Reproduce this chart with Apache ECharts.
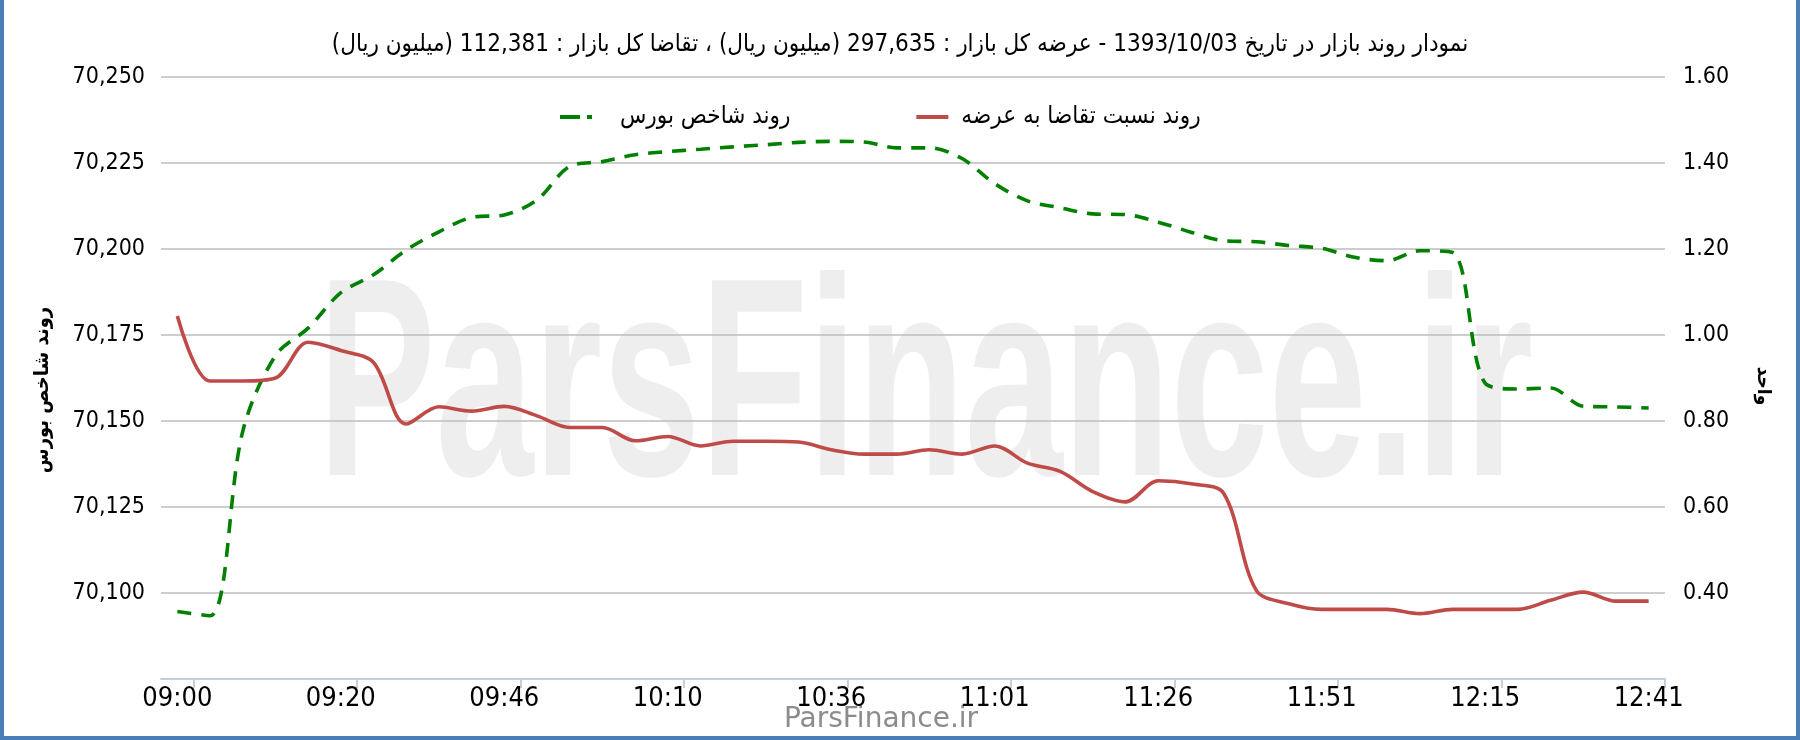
<!DOCTYPE html>
<html>
<head>
<meta charset="utf-8">
<script src="https://cdn.jsdelivr.net/npm/echarts@6/dist/echarts.min.js"></script>
<style>
html,body{margin:0;padding:0;background:#fff;}
#chart{width:1800px;height:740px;}
</style>
</head>
<body>
<div id="chart"></div>
<script>
// ---- data ----
const titleText = 'نمودار روند بازار در تاریخ 1393/10/03 - عرضه کل بازار : 297,635 (میلیون ریال) ، تقاضا کل بازار : 112,381 (میلیون ریال)';
const nameIndex = 'روند شاخص بورس';
const nameRatio = 'روند نسبت تقاضا به عرضه';
const rightAxisName = 'واحد';
const watermarkText = 'ParsFinance.ir';

const times = [
  '09:00','09:04','09:08','09:12','09:16','09:20','09:25','09:30','09:36','09:41',
  '09:46','09:51','09:56','10:00','10:05','10:10','10:15','10:20','10:26','10:31',
  '10:36','10:41','10:46','10:51','10:56','11:01','11:06','11:11','11:16','11:21',
  '11:26','11:31','11:36','11:41','11:46','11:51','11:56','12:01','12:05','12:10',
  '12:15','12:20','12:25','12:30','12:36','12:41'
];

const indexValues = [
  70094.6, 70093.4, 70147, 70169, 70177, 70187.3, 70192.5, 70199.7, 70205, 70209.2,
  70209.9, 70214.3, 70224, 70225.4, 70227.4, 70228.3, 70229, 70229.7, 70230.3, 70231,
  70231.3, 70231.1, 70229.4, 70229.4, 70226.3, 70219, 70214, 70212, 70210.2, 70210,
  70207.8, 70204.9, 70202.4, 70202.1, 70201, 70200.2, 70197.6, 70196.6, 70199.5, 70199,
  70161, 70159.3, 70159.6, 70154.3, 70154.1, 70153.8
];

const ratioValues = [
  1.044, 0.893, 0.893, 0.900, 0.983, 0.964, 0.936, 0.793, 0.833, 0.823,
  0.834, 0.812, 0.785, 0.785, 0.754, 0.764, 0.742, 0.753, 0.753, 0.751,
  0.733, 0.723, 0.723, 0.733, 0.723, 0.742, 0.702, 0.683, 0.636, 0.612,
  0.661, 0.654, 0.632, 0.406, 0.375, 0.362, 0.362, 0.362, 0.352, 0.362,
  0.362, 0.362, 0.383, 0.402, 0.381, 0.381
];

const leftMin = 70075, leftMax = 70250, leftStep = 25;
const rightMin = 0.2, rightMax = 1.6, rightStep = 0.2;
const labelEvery = 5;

// ---- chart ----
const FONT = "'DejaVu Sans Condensed', 'DejaVu Sans', sans-serif";
const GREEN = '#008000', RED = '#be4b48';
const chart = echarts.init(document.getElementById('chart'), null, {renderer: 'canvas'});

const option = {
  animation: false,
  backgroundColor: '#ffffff',
  title: {
    text: titleText,
    left: 'center',
    top: 28,
    textStyle: {fontFamily: FONT, fontSize: 24, fontWeight: 'normal', color: '#000'}
  },
  legend: {
    left: 555,
    top: 100,
    itemWidth: 32,
    itemHeight: 4,
    itemGap: 126,
    data: [
      {name: nameIndex, icon: 'path://M0,0H20V4H0ZM27,0H32V4H27Z', itemStyle: {color: GREEN},
       textStyle: {padding: [0, 0, 0, 23]}},
      {name: nameRatio, icon: 'path://M0,0H32V4H0Z', itemStyle: {color: RED}}
    ],
    textStyle: {fontFamily: FONT, fontSize: 24, color: '#000', padding: [0, 0, 0, 8]}
  },
  grid: {left: 161, right: 135, top: 77, bottom: 61, containLabel: false},
  xAxis: {
    type: 'category',
    data: times,
    boundaryGap: true,
    axisLine: {lineStyle: {color: '#c5cfdb', width: 2}},
    axisTick: {
      show: true, length: 9,
      interval: function (i) { return i % labelEvery === 1; },
      lineStyle: {color: '#c5cfdb', width: 2}
    },
    axisLabel: {interval: labelEvery - 1, fontFamily: FONT, fontSize: 27, color: '#000', margin: 6},
    splitLine: {show: false}
  },
  yAxis: [
    {
      type: 'value', position: 'left',
      min: leftMin, max: leftMax, interval: leftStep,
      name: nameIndex, nameLocation: 'middle', nameGap: 108, nameRotate: 90,
      nameTextStyle: {fontFamily: FONT, fontSize: 20, fontWeight: 'bold', color: '#000', padding: [0, 24, 0, 0]},
      axisLine: {show: false}, axisTick: {show: false},
      axisLabel: {
        showMinLabel: false, fontFamily: FONT, fontSize: 23, color: '#000', margin: 16,
        formatter: function (v) { return v.toLocaleString('en-US'); }
      },
      splitLine: {lineStyle: {color: '#bcbcbc', width: 1.5}}
    },
    {
      type: 'value', position: 'right',
      min: rightMin, max: rightMax, interval: rightStep,
      name: rightAxisName, nameLocation: 'middle', nameGap: 88, nameRotate: -90,
      nameTextStyle: {fontFamily: FONT, fontSize: 19, fontWeight: 'bold', color: '#000', padding: [0, 0, 0, 16]},
      axisLine: {show: false}, axisTick: {show: false},
      axisLabel: {
        showMinLabel: false, fontFamily: FONT, fontSize: 23, color: '#000', margin: 18,
        formatter: function (v) { return v.toFixed(2); }
      },
      splitLine: {show: false}
    }
  ],
  graphic: {
    elements: [
      {
        type: 'text', z: -10, x: 318, y: 397, scaleX: 0.623, silent: true,
        style: {text: watermarkText, fontSize: 283, fontWeight: 'bold',
                fontFamily: "'Liberation Sans', Arial, sans-serif",
                fill: '#eeeeee', verticalAlign: 'middle', align: 'left'}
      },
      {
        type: 'text', x: 881, y: 720, silent: true,
        style: {text: watermarkText, fontSize: 28, fontFamily: "'DejaVu Sans', sans-serif", fill: '#8c8c8c',
                align: 'center', verticalAlign: 'middle'}
      },
      {
        type: 'polyline', silent: true, z: 100,
        shape: {points: [[2, 0], [2, 738], [1798, 738], [1798, 0]]},
        style: {fill: null, stroke: '#4a7eb8', lineWidth: 4}
      }
    ]
  },
  series: [
    {
      name: nameIndex, type: 'line', yAxisIndex: 0, data: indexValues,
      smooth: 0.33, symbol: 'none', showSymbol: false,
      lineStyle: {color: GREEN, width: 3.6, type: [14, 10]},
      itemStyle: {color: GREEN}
    },
    {
      name: nameRatio, type: 'line', yAxisIndex: 1, data: ratioValues,
      smooth: 0.33, symbol: 'none', showSymbol: false,
      lineStyle: {color: RED, width: 3.6},
      itemStyle: {color: RED}
    }
  ]
};
chart.setOption(option);
</script>
</body>
</html>
